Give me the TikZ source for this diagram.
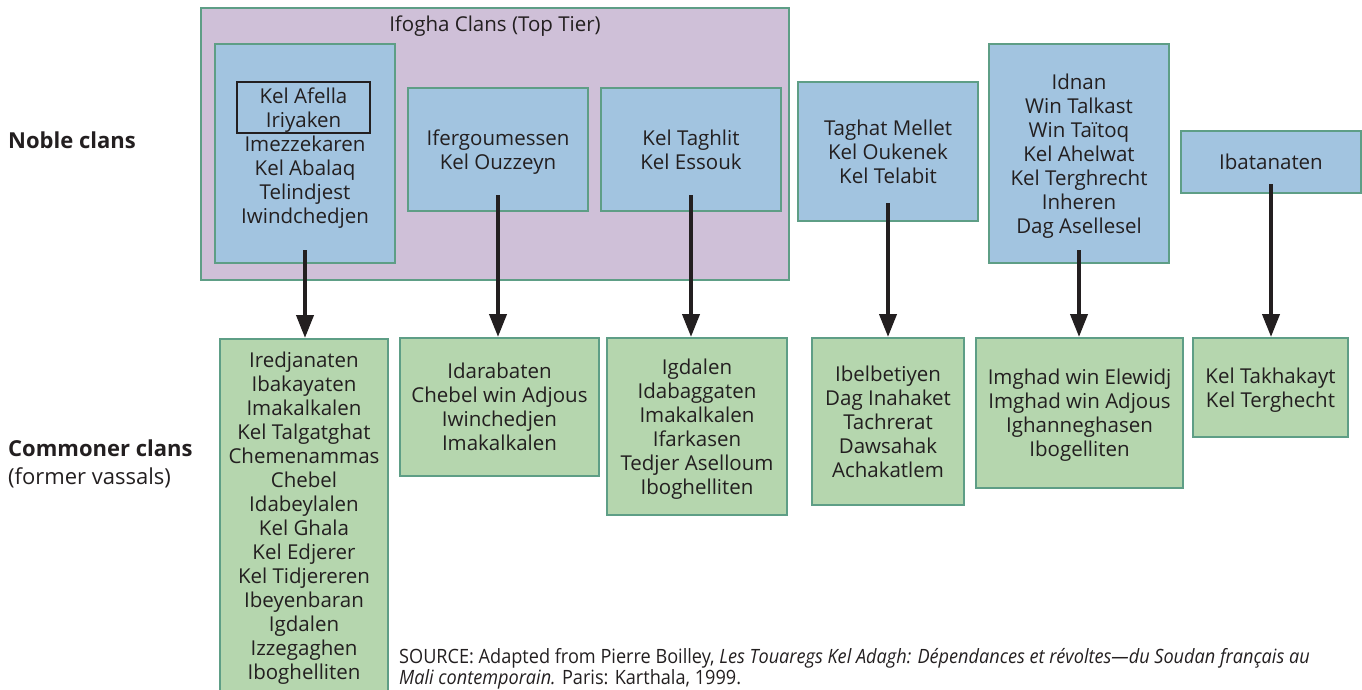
\documentclass[tikz,border=0pt]{standalone}
\usepackage{fontspec}
\setmainfont{Open Sans}
\newfontfamily\sourcefont[FakeStretch=0.92]{Open Sans}
\usepackage{xcolor}
\usetikzlibrary{arrows.meta,positioning,calc}
\definecolor{TopTierBackground}{HTML}{CFC0D8}
\definecolor{NobleClanBackground}{HTML}{A2C4E0}
\definecolor{CommonerClanBackground}{HTML}{B5D6AE}
\definecolor{ClanBorder}{HTML}{5E9E86}
\definecolor{ClanText}{HTML}{231F20}
\tikzstyle{TierBox} =[draw=ClanBorder,line width=2pt,fill=TopTierBackground,inner sep=0pt]
\tikzstyle{ClanList} =[align=center,inner sep=0pt,text depth=-3pt]
\tikzstyle{NobleClanNode} =[ClanList,draw=ClanBorder,line width=2pt,fill=NobleClanBackground]
\tikzstyle{CommonerClanNode} =[ClanList,draw=ClanBorder,line width=2pt,fill=CommonerClanBackground]
\tikzstyle{RankLabel} =[align=left,anchor=west,inner sep=0pt,font=\fontsize{22}{28}\selectfont]
\tikzstyle{Descent} =[draw=ClanText,line width=4pt,-{Triangle[length=23pt,width=17pt]}]

\begin{document}
\begin{tikzpicture}[x=1pt,y=-1pt,font=\fontsize{20.5}{24}\selectfont,text=ClanText]
    \useasboundingbox (0,0) rectangle (1362,690);

    % left side labels
    \node[RankLabel] (Noble-Label) at (8,140) {\bfseries Noble clans};
    \node[RankLabel] (Commoner-Label) at (8,464) {\bfseries Commoner clans\\(former vassals)};

    % Ifogha frame
    \node[TierBox,minimum width=588pt,minimum height=272pt] (Ifogha-Clans) at (495,144) {};
    \node[inner sep=0pt] (Ifogha-Title) at (495,26) {Ifogha Clans (Top Tier)};

    % noble clans
    \node[NobleClanNode,minimum width=180pt,minimum height=219pt] (Kel-Afella-Group) at (305,153.5) {};
    \node[ClanList,draw=ClanText,line width=1.5pt,minimum width=133pt,minimum height=51pt] (Kel-Afella) at (303.5,107.5) {Kel Afella\\Iriyaken};
    \node[ClanList] (Imezzekaren) at (305,179.5) {Imezzekaren\\Kel Abalaq\\Telindjest\\Iwindchedjen};
    \node[NobleClanNode,minimum width=180pt,minimum height=123pt] (Ifergoumessen) at (498,149.5) {Ifergoumessen\\Kel Ouzzeyn};
    \node[NobleClanNode,minimum width=180pt,minimum height=123pt] (Kel-Taghlit) at (691,149.5) {Kel Taghlit\\Kel Essouk};
    \node[NobleClanNode,minimum width=180pt,minimum height=139pt] (Taghat-Mellet) at (888,151.5) {Taghat Mellet\\Kel Oukenek\\Kel Telabit};
    \node[NobleClanNode,minimum width=180pt,minimum height=219pt] (Idnan) at (1079,153.5) {Idnan\\Win Talkast\\Win Taïtoq\\Kel Ahelwat\\Kel Terghrecht\\Inheren\\Dag Asellesel};
    \node[NobleClanNode,minimum width=180pt,minimum height=62pt] (Ibatanaten) at (1271,162) {Ibatanaten};

    % commoner clans
    \node[CommonerClanNode,minimum width=168pt,minimum height=353pt] (Iredjanaten) at (304,515.5) {Iredjanaten\\Ibakayaten\\Imakalkalen\\Kel Talgatghat\\Chemenammas\\Chebel\\Idabeylalen\\Kel Ghala\\Kel Edjerer\\Kel Tidjereren\\Ibeyenbaran\\Igdalen\\Izzegaghen\\Iboghelliten};
    \node[CommonerClanNode,minimum width=199pt,minimum height=138pt] (Idarabaten) at (499.5,407) {Idarabaten\\Chebel win Adjous\\Iwinchedjen\\Imakalkalen};
    \node[CommonerClanNode,minimum width=180pt,minimum height=177pt] (Igdalen) at (697,426.5) {Igdalen\\Idabaggaten\\Imakalkalen\\Ifarkasen\\Tedjer Aselloum\\Iboghelliten};
    \node[CommonerClanNode,minimum width=152pt,minimum height=167pt] (Ibelbetiyen) at (888,421.5) {Ibelbetiyen\\Dag Inahaket\\Tachrerat\\Dawsahak\\Achakatlem};
    \node[CommonerClanNode,minimum width=207pt,minimum height=150pt] (Imghad) at (1079.5,413) {Imghad win Elewidj\\Imghad win Adjous\\Ighanneghasen\\Ibogelliten};
    \node[CommonerClanNode,minimum width=155pt,minimum height=99pt] (Kel-Takhakayt) at (1270.5,387.5) {Kel Takhakayt\\Kel Terghecht};

    \node[anchor=north west,align=left,inner sep=0pt,font=\sourcefont\fontsize{19.7}{20.5}\selectfont] (Source-Note) at (399,648.5) {SOURCE: Adapted from Pierre Boilley, \textit{Les Touaregs Kel Adagh: Dépendances et révoltes—du Soudan français au}\\\textit{Mali contemporain.} Paris: Karthala, 1999.};

    \draw[Descent] ([yshift=14pt]Kel-Afella-Group.south) -- (Kel-Afella-Group.south |- Iredjanaten.north);
    \draw[Descent] ([yshift=17pt]Ifergoumessen.south) -- (Ifergoumessen.south |- Idarabaten.north);
    \draw[Descent] ([yshift=17pt]Kel-Taghlit.south) -- (Kel-Taghlit.south |- Igdalen.north);
    \draw[Descent] ([yshift=19pt]Taghat-Mellet.south) -- (Taghat-Mellet.south |- Ibelbetiyen.north);
    \draw[Descent] ([yshift=14pt]Idnan.south) -- (Idnan.south |- Imghad.north);
    \draw[Descent] ([yshift=10pt]Ibatanaten.south) -- (Ibatanaten.south |- Kel-Takhakayt.north);
\end{tikzpicture}
\end{document}
